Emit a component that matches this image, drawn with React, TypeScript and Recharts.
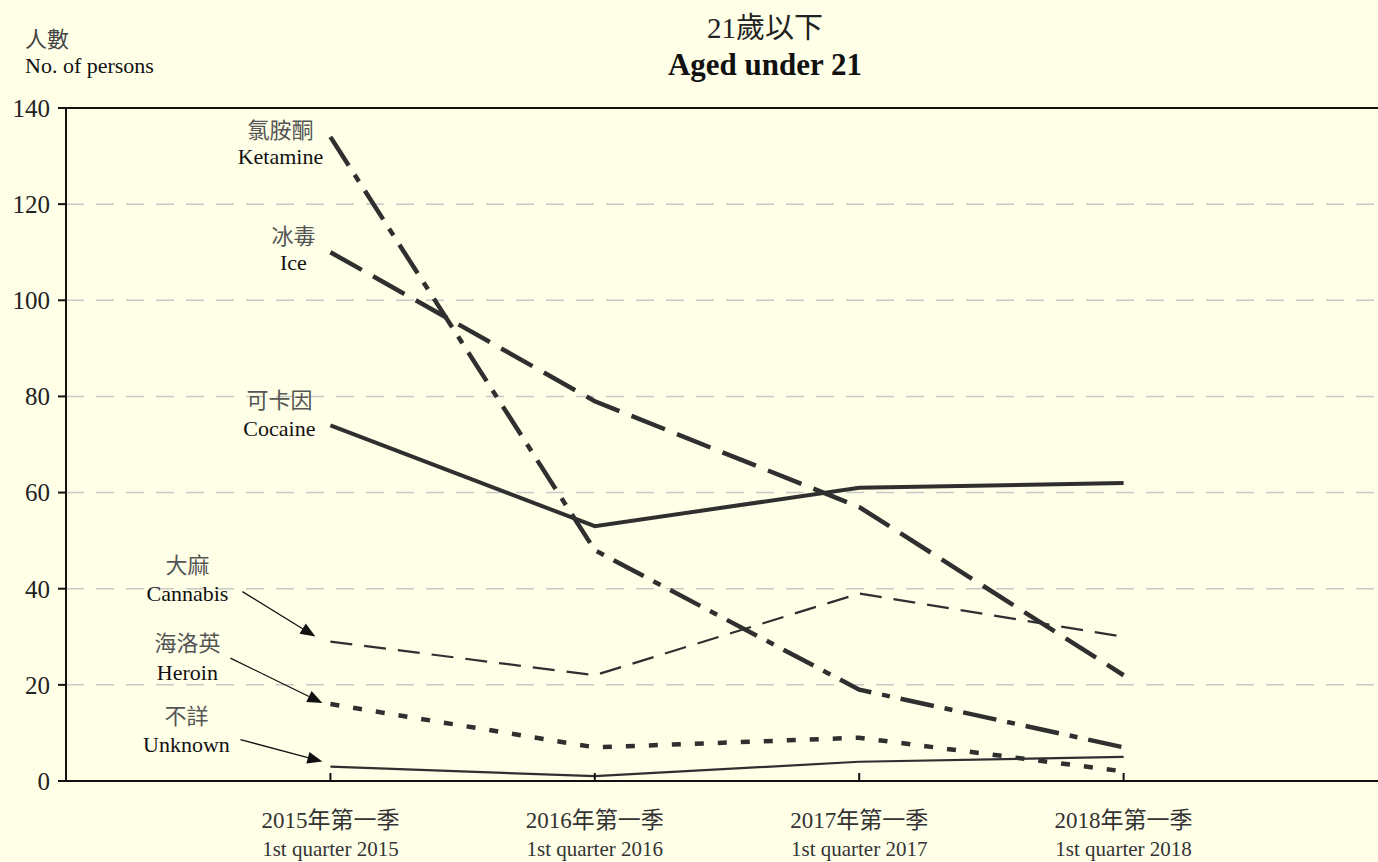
import { CartesianGrid, LabelList, Line, LineChart, ReferenceLine, XAxis, YAxis } from "recharts";

const quartersZh = ["2015年第一季", "2016年第一季", "2017年第一季", "2018年第一季"];
const quartersEn = ["1st quarter 2015", "1st quarter 2016", "1st quarter 2017", "1st quarter 2018"];

const ketamine = [134, 48, 19, 7];
const ice = [110, 79, 57, 22];
const cocaine = [74, 53, 61, 62];
const cannabis = [29, 22, 39, 30];
const heroin = [16, 7, 9, 2];
const unknown = [3, 1, 4, 5];

const yTicks = [0, 20, 40, 60, 80, 100, 120, 140];

const data = quartersZh.map((q, i) => ({
  x: i + 1,
  q,
  ketamine: ketamine[i],
  ice: ice[i],
  cocaine: cocaine[i],
  cannabis: cannabis[i],
  heroin: heroin[i],
  unknown: unknown[i],
}));

const SERIF = '"Liberation Serif", "Times New Roman", "Noto Sans CJK TC", serif';
const INK = "#2f2f2f";

type Arrow = [number, number, number, number];

const seriesLabel =
  (zh: string, en: string, dx: number, zhDy: number, enDy: number, arrow?: Arrow) =>
  (props: any) => {
    const { x, y, index } = props;
    if (index !== 0) return null;
    const px = Number(x);
    const py = Number(y);
    let arrowEl = null;
    if (arrow) {
      const x1 = px + arrow[0];
      const y1 = py + arrow[1];
      const x2 = px + arrow[2];
      const y2 = py + arrow[3];
      const a = Math.atan2(y2 - y1, x2 - x1);
      const len = 15;
      const w = 6;
      const bx = x2 - len * Math.cos(a);
      const by = y2 - len * Math.sin(a);
      const pts = [
        `${x2},${y2}`,
        `${bx + w * Math.sin(a)},${by - w * Math.cos(a)}`,
        `${bx - w * Math.sin(a)},${by + w * Math.cos(a)}`,
      ].join(" ");
      arrowEl = (
        <g>
          <line x1={x1} y1={y1} x2={bx} y2={by} stroke="#111" strokeWidth={1.3} />
          <polygon points={pts} fill="#111" />
        </g>
      );
    }
    return (
      <g>
        <text x={px + dx} y={py + zhDy} dy="0.35em" textAnchor="middle" fontFamily={SERIF} fontSize={22} fill="#555">
          {zh}
        </text>
        <text x={px + dx} y={py + enDy} dy="0.35em" textAnchor="middle" fontFamily={SERIF} fontSize={22} fill="#111">
          {en}
        </text>
        {arrowEl}
      </g>
    );
  };

const QuarterTick = (props: any) => {
  const { x, y, payload } = props;
  const i = Number(payload.value) - 1;
  return (
    <g>
      <line x1={x} y1={y - 8} x2={x} y2={y} stroke="#111" strokeWidth={2} />
      <text x={x} y={y + 47} textAnchor="middle" fontFamily={SERIF} fontSize={23} fill="#333">
        {quartersZh[i]}
      </text>
      <text x={x} y={y + 75} textAnchor="middle" fontFamily={SERIF} fontSize={21} fill="#333">
        {quartersEn[i]}
      </text>
    </g>
  );
};

export default function App() {
  return (
    <div
      style={{
        position: "absolute",
        left: 0,
        top: 0,
        width: 1378,
        height: 862,
        background: "#FFFFE8",
        overflow: "hidden",
        fontFamily: SERIF,
      }}
    >
      <div style={{ position: "absolute", left: 25, top: 27, fontSize: 22, color: "#444", lineHeight: "26px" }}>
        <div>人數</div>
        <div style={{ color: "#111", fontSize: 22 }}>No. of persons</div>
      </div>
      <div style={{ position: "absolute", left: 515, width: 500, top: 10, textAlign: "center", color: "#222" }}>
        <div style={{ fontSize: 29, lineHeight: "36px" }}>21歲以下</div>
        <div style={{ fontSize: 31, fontWeight: "bold", lineHeight: "38px", color: "#111" }}>Aged under 21</div>
      </div>
      <LineChart width={1378} height={862} data={data} margin={{ top: 108, right: -10, left: 0, bottom: 0 }}>
        <CartesianGrid vertical={false} stroke="#c8c8c8" strokeWidth={1.5} strokeDasharray="18 12" />
        <XAxis
          dataKey="x"
          type="number"
          domain={[0, 5]}
          ticks={[1, 2, 3, 4]}
          height={81}
          tick={<QuarterTick />}
          tickLine={false}
          tickSize={0}
          tickMargin={0}
          axisLine={{ stroke: "#111", strokeWidth: 2 }}
        />
        <YAxis
          type="number"
          domain={[0, 140]}
          ticks={yTicks}
          width={66}
          tickSize={8}
          tickMargin={8}
          tickLine={{ stroke: "#111", strokeWidth: 2 }}
          axisLine={{ stroke: "#111", strokeWidth: 2 }}
          tick={{ fontFamily: SERIF, fontSize: 25, fill: "#222" }}
        />
        <ReferenceLine y={140} stroke="#111" strokeWidth={2} />
        <Line type="linear" dataKey="ketamine" stroke={INK} strokeWidth={4.5} strokeDasharray="34 11 8 11" dot={false} isAnimationActive={false}>
          <LabelList dataKey="ketamine" content={seriesLabel("氯胺酮", "Ketamine", -50, -7, 19)} />
        </Line>
        <Line type="linear" dataKey="ice" stroke={INK} strokeWidth={4.5} strokeDasharray="36 13" dot={false} isAnimationActive={false}>
          <LabelList dataKey="ice" content={seriesLabel("冰毒", "Ice", -37, -16, 10)} />
        </Line>
        <Line type="linear" dataKey="cocaine" stroke={INK} strokeWidth={4} dot={false} isAnimationActive={false}>
          <LabelList dataKey="cocaine" content={seriesLabel("可卡因", "Cocaine", -51, -25, 3)} />
        </Line>
        <Line type="linear" dataKey="cannabis" stroke={INK} strokeWidth={2.2} strokeDasharray="22 12" dot={false} isAnimationActive={false}>
          <LabelList dataKey="cannabis" content={seriesLabel("大麻", "Cannabis", -143, -76, -48, [-88, -50, -15, -5])} />
        </Line>
        <Line type="linear" dataKey="heroin" stroke={INK} strokeWidth={4.5} strokeDasharray="9 14" dot={false} isAnimationActive={false}>
          <LabelList dataKey="heroin" content={seriesLabel("海洛英", "Heroin", -143, -61, -32, [-100, -46, -8, -1])} />
        </Line>
        <Line type="linear" dataKey="unknown" stroke={INK} strokeWidth={2.2} dot={false} isAnimationActive={false}>
          <LabelList dataKey="unknown" content={seriesLabel("不詳", "Unknown", -144, -50, -22, [-90, -27, -8, -5])} />
        </Line>
      </LineChart>
    </div>
  );
}
